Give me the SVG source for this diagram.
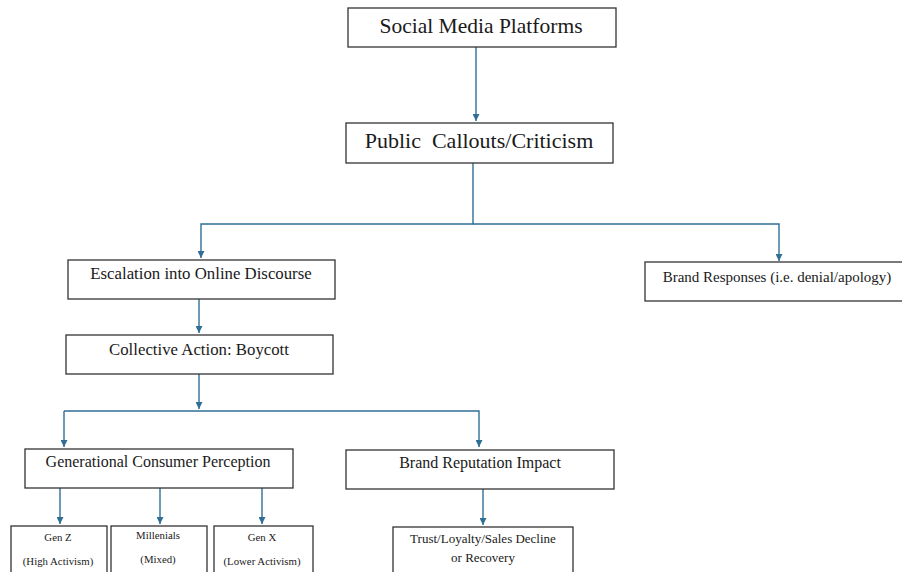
<svg xmlns="http://www.w3.org/2000/svg" width="902" height="572" viewBox="0 0 902 572">
<style>
.box{fill:#fff;stroke:#333;stroke-width:1.3}
.t{font-family:"Liberation Serif","Times New Roman",serif;fill:#1a1a1a;text-anchor:middle}
.c{fill:none;stroke:#2f6f95;stroke-width:1.4}
</style>
<defs>
<marker id="ah" viewBox="0 0 10 10" refX="10" refY="5" markerWidth="7" markerHeight="7" markerUnits="userSpaceOnUse" orient="auto">
<path d="M0,0 L10,5 L0,10 z" fill="#2f6f95"/>
</marker>
</defs>
<rect width="902" height="572" fill="#fff"/>
<g id="connectors">
<path class="c" d="M476,47 V121" marker-end="url(#ah)"/>
<path class="c" d="M473,163 V224 H201 V258" marker-end="url(#ah)"/>
<path class="c" d="M473,224 H779 V261" marker-end="url(#ah)"/>
<path class="c" d="M199,299 V333" marker-end="url(#ah)"/>
<path class="c" d="M199,374 V409" marker-end="url(#ah)"/>
<path class="c" d="M64,411 H479 V447" marker-end="url(#ah)"/>
<path class="c" d="M64,411 V447" marker-end="url(#ah)"/>
<path class="c" d="M60,488 V524" marker-end="url(#ah)"/>
<path class="c" d="M160,488 V524" marker-end="url(#ah)"/>
<path class="c" d="M262,488 V524" marker-end="url(#ah)"/>
<path class="c" d="M483,489 V525" marker-end="url(#ah)"/>
</g>
<g id="social-media">
<rect class="box" x="348" y="8" width="268" height="39"/>
<text class="t" x="481" y="33" font-size="21.5">Social Media Platforms</text>
</g>
<g id="public-callouts">
<rect class="box" x="346" y="123" width="267" height="40"/>
<text class="t" x="479" y="148" font-size="22" xml:space="preserve">Public  Callouts/Criticism</text>
</g>
<g id="escalation">
<rect class="box" x="68" y="260" width="267" height="39"/>
<text class="t" x="201" y="279" font-size="16.8">Escalation into Online Discourse</text>
</g>
<g id="brand-responses">
<rect class="box" x="645" y="262" width="262" height="39"/>
<text class="t" x="777" y="282" font-size="15">Brand Responses (i.e. denial/apology)</text>
</g>
<g id="collective-action">
<rect class="box" x="66" y="335" width="267" height="39"/>
<text class="t" x="199" y="355" font-size="16.8">Collective Action: Boycott</text>
</g>
<g id="generational">
<rect class="box" x="25" y="449" width="268" height="39"/>
<text class="t" x="158" y="467" font-size="16">Generational Consumer Perception</text>
</g>
<g id="brand-reputation">
<rect class="box" x="346" y="450" width="268" height="39"/>
<text class="t" x="480" y="468" font-size="16">Brand Reputation Impact</text>
</g>
<g id="gen-z">
<rect class="box" x="11" y="526" width="96" height="60"/>
<text class="t" x="58" y="541" font-size="10.8">Gen Z</text>
<text class="t" x="58" y="565" font-size="10.8">(High Activism)</text>
</g>
<g id="millenials">
<rect class="box" x="111" y="526" width="96" height="60"/>
<text class="t" x="158" y="539" font-size="10.8">Millenials</text>
<text class="t" x="158" y="563" font-size="10.8">(Mixed)</text>
</g>
<g id="gen-x">
<rect class="box" x="214" y="526" width="99" height="60"/>
<text class="t" x="262" y="541" font-size="10.8">Gen X</text>
<text class="t" x="262" y="565" font-size="10.8">(Lower Activism)</text>
</g>
<g id="trust">
<rect class="box" x="393" y="527" width="180" height="60"/>
<text class="t" x="483" y="543" font-size="13">Trust/Loyalty/Sales Decline</text>
<text class="t" x="483" y="562" font-size="13">or Recovery</text>
</g>
</svg>
